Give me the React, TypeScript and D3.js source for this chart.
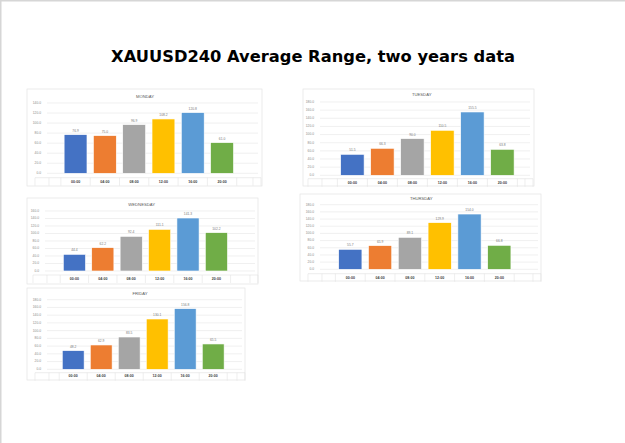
import React from "react";
import * as d3 from "d3";

const categories = ["00:00", "04:00", "08:00", "12:00", "16:00", "20:00"];
const dayNames = ["MONDAY", "TUESDAY", "WEDNESDAY", "THURSDAY", "FRIDAY"];
const mondayValues = [76.9, 75.0, 96.9, 108.2, 120.8, 61.0];
const tuesdayValues = [51.5, 66.3, 90.0, 110.5, 155.5, 63.8];
const wednesdayValues = [44.4, 62.2, 92.4, 111.1, 141.3, 102.2];
const thursdayValues = [55.7, 65.9, 89.1, 129.9, 154.0, 66.8];
const fridayValues = [48.2, 62.9, 83.5, 130.1, 156.8, 65.5];
const axisMax = [140, 180, 160, 180, 180];
const titleText = "XAUUSD240 Average Range, two years data";

const seriesValues = [mondayValues, tuesdayValues, wednesdayValues, thursdayValues, fridayValues];
const colors = ["#4472C4", "#ED7D31", "#A5A5A5", "#FFC000", "#5B9BD5", "#70AD47"];

// layout per panel
const layouts = [
  { bx0: 27, by0: 89, bx1: 262, by1: 186, tx: 145, ty: 97, yTop: 103, yZero: 173.3, gl: 47, gr: 258, bs: 60.9, step: 29.3, line: 177.7, ly: 182.3 },
  { bx0: 303, by0: 89, bx1: 534, by1: 186, tx: 421.7, ty: 95.3, yTop: 102, yZero: 175.3, gl: 320, gr: 530, bs: 337.4, step: 30, line: 178.7, ly: 182.6 },
  { bx0: 27, by0: 198, bx1: 258, by1: 284, tx: 141.7, ty: 205, yTop: 211, yZero: 271, gl: 45, gr: 255, bs: 60.2, step: 28.4, line: 275, ly: 279 },
  { bx0: 300, by0: 194, bx1: 541, by1: 281, tx: 421.3, ty: 198.7, yTop: 204.7, yZero: 269.3, gl: 320, gr: 538, bs: 335.4, step: 29.8, line: 273.7, ly: 278 },
  { bx0: 27, by0: 288, bx1: 245, by1: 380, tx: 140, ty: 293.7, yTop: 299.7, yZero: 369.3, gl: 47, gr: 242, bs: 59.2, step: 28, line: 372.7, ly: 376.3 },
];

const fmt = d3.format(".1f");
const smallFont = "'Liberation Sans', Arial, sans-serif";

function Panel({ idx }: { idx: number }) {
  const L = layouts[idx];
  const values = seriesValues[idx];
  const x = d3
    .scaleBand<string>()
    .domain(categories)
    .range([L.bs, L.bs + L.step * categories.length])
    .paddingInner(0.22)
    .paddingOuter(0.11);
  const y = d3.scaleLinear().domain([0, axisMax[idx]]).range([L.yZero, L.yTop]);
  const ticks = d3.range(0, axisMax[idx] + 0.001, 20);
  const edges = categories.map((c) => (x(c) as number) - x.step() * 0.11);
  edges.push(L.bs + L.step * categories.length);
  const extra = [L.gl - 12, L.gl + 2, L.gr - 5, L.gr + 3];
  return (
    <g>
      <rect x={L.bx0} y={L.by0} width={L.bx1 - L.bx0} height={L.by1 - L.by0} fill="#fff" stroke="#e3e3e3" strokeWidth={0.7} />
      <text x={L.tx} y={L.ty} textAnchor="middle" dominantBaseline="middle" fontSize={4.2} fill="#595959" fontFamily={smallFont}>
        {dayNames[idx]}
      </text>
      {ticks.map((t) => (
        <g key={t}>
          <line x1={L.gl} x2={L.gr} y1={y(t)} y2={y(t)} stroke="#e6e6e6" strokeWidth={0.6} />
          <text x={L.gl - 6} y={y(t)} textAnchor="end" dominantBaseline="middle" fontSize={3.3} fill="#8c8c8c" fontFamily={smallFont}>
            {fmt(t)}
          </text>
        </g>
      ))}
      {categories.map((c, i) => (
        <g key={c}>
          <rect x={x(c)} y={y(values[i])} width={x.bandwidth()} height={L.yZero - y(values[i])} fill={colors[i]} stroke="#ffffff" strokeWidth={0.6} />
          <text x={(x(c) as number) + x.bandwidth() / 2} y={y(values[i]) - 3} textAnchor="middle" fontSize={3.3} fill="#7a7a7a" fontFamily={smallFont}>
            {fmt(values[i])}
          </text>
          <text x={(x(c) as number) + x.bandwidth() / 2} y={L.ly} textAnchor="middle" dominantBaseline="middle" fontSize={3.6} fontWeight="bold" fill="#404040" fontFamily={smallFont}>
            {c}
          </text>
        </g>
      ))}
      <line x1={L.gl - 12} x2={L.gr + 3} y1={L.line} y2={L.line} stroke="#e0e0e0" strokeWidth={0.6} />
      {edges.concat(extra).map((ex, i) => (
        <line key={i} x1={ex} x2={ex} y1={L.line} y2={L.line + 8} stroke="#e3e3e3" strokeWidth={0.6} />
      ))}
    </g>
  );
}

export default function App() {
  return (
    <svg width={625} height={443} style={{ position: "absolute", left: 0, top: 0, background: "#fff" }}>
      <rect x={0} y={0} width={625} height={443} fill="#fff" />
      <line x1={0.75} x2={0.75} y1={0} y2={443} stroke="#d6d6d6" strokeWidth={1.5} />
      <line x1={0} x2={625} y1={0.75} y2={0.75} stroke="#d6d6d6" strokeWidth={1.5} />
      <text x={313} y={57} textAnchor="middle" dominantBaseline="middle" fontSize={16.3} fontWeight="bold" fontFamily="'DejaVu Sans', Verdana, sans-serif" fill="#000">
        {titleText}
      </text>
      {layouts.map((_, i) => (
        <Panel key={i} idx={i} />
      ))}
    </svg>
  );
}
